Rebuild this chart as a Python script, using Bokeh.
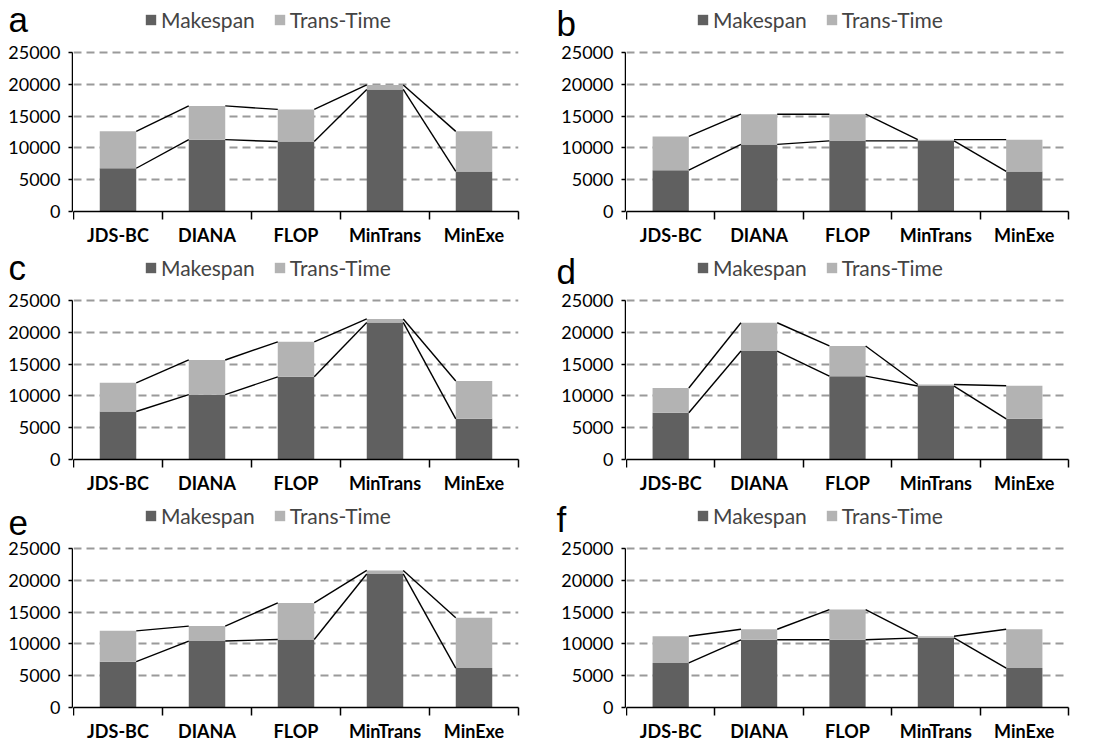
from bokeh.plotting import figure
from bokeh.models import ColumnDataSource, Range1d, FixedTicker, Legend, Title
from bokeh.layouts import column, row
from bokeh.embed import file_html
from bokeh.resources import INLINE

categories = ["JDS-BC", "DIANA", "FLOP", "MinTrans", "MinExe"]
panel_letters = ["a", "b", "c", "d", "e", "f"]
y_ticks = [0, 5000, 10000, 15000, 20000, 25000]

makespan_a = [6800, 11300, 11000, 19200, 6300]
total_a = [12600, 16600, 16050, 19900, 12600]
makespan_b = [6500, 10550, 11100, 11100, 6300]
total_b = [11800, 15300, 15300, 11300, 11300]
makespan_c = [7550, 10200, 13000, 21550, 6400]
total_c = [12050, 15650, 18500, 22100, 12350]
makespan_d = [7350, 17050, 13100, 11550, 6400]
total_d = [11250, 21500, 17850, 11800, 11600]
makespan_e = [7200, 10450, 10700, 21000, 6200]
total_e = [12050, 12800, 16450, 21550, 14100]
makespan_f = [7000, 10650, 10650, 10950, 6200]
total_f = [11200, 12300, 15400, 11200, 12300]

panels = [
    (makespan_a, total_a), (makespan_b, total_b),
    (makespan_c, total_c), (makespan_d, total_d),
    (makespan_e, total_e), (makespan_f, total_f),
]

DARK = "#606060"
LIGHT = "#b3b3b3"
FONT = "Lato"
BAR_W = 0.41

PANEL_H = 248
FRAME_BOTTOM = 211   # pixel from panel top where y = 0
Y25_PX = 52          # pixel from panel top where y = 25000


def y_max_for(frame_top):
    return 25000 * (FRAME_BOTTOM - frame_top) / (FRAME_BOTTOM - Y25_PX)


def style_yaxis(yax):
    yax.ticker = FixedTicker(ticks=y_ticks, minor_ticks=[])
    yax.bounds = (0, 25000)
    yax.axis_line_color = "black"
    yax.axis_line_width = 1.5
    yax.major_tick_in = 0
    yax.major_tick_out = 4
    yax.major_tick_line_color = "black"
    yax.major_tick_line_width = 1.5
    yax.major_label_standoff = 8
    yax.major_label_text_font = FONT
    yax.major_label_text_font_size = "18px"
    yax.major_label_text_color = "black"


def make_panel(idx, mk, tot):
    left_col = idx % 2 == 0
    width = 548 if left_col else 549
    bl = 72 if left_col else 77
    br = 30 if left_col else 29
    left_top = 36 if left_col else 44       # frame top of the narrow axis figure
    title_standoff = -8 if left_col else 0
    n = len(categories)
    trans = [t - m for t, m in zip(tot, mk)]
    xs = list(range(n))
    src = ColumnDataSource(dict(x=xs, Makespan=mk, Trans=trans))

    # ---- narrow figure: y axis + panel letter ----
    lf = figure(width=bl + 1, height=PANEL_H, output_backend="svg", toolbar_location=None,
                x_range=Range1d(0, 1), y_range=Range1d(0, y_max_for(left_top)),
                min_border_left=bl, min_border_right=0, min_border_top=left_top,
                min_border_bottom=PANEL_H - FRAME_BOTTOM)
    lf.frame_align = False
    lf.outline_line_color = None
    lf.xaxis.visible = False
    lf.xgrid.visible = False
    lf.ygrid.visible = False
    style_yaxis(lf.yaxis[0])
    lf.add_layout(Title(text=panel_letters[idx], align="left", offset=-(bl - 8),
                        vertical_align="top", standoff=title_standoff,
                        text_font="Liberation Sans", text_font_size="35px",
                        text_font_style="normal", text_color="black"), "above")

    # ---- main figure ----
    p = figure(width=width - bl - 1, height=PANEL_H, output_backend="svg", toolbar_location=None,
               x_range=Range1d(-0.5, n - 0.5), y_range=Range1d(0, y_max_for(0)),
               min_border_left=0, min_border_right=br, min_border_top=0,
               min_border_bottom=PANEL_H - FRAME_BOTTOM)
    p.frame_align = False
    p.outline_line_color = None
    p.xgrid.visible = False
    p.yaxis.visible = False

    rs = p.vbar_stack(["Makespan", "Trans"], x="x", width=BAR_W, color=[DARK, LIGHT],
                      line_color=None, source=src)

    # Excel-style series lines joining the tops of each stacked segment
    x0 = [i + BAR_W / 2 for i in xs[:-1]]
    x1 = [i + 1 - BAR_W / 2 for i in xs[:-1]]
    p.segment(x0=x0, y0=mk[:-1], x1=x1, y1=mk[1:], line_color="black", line_width=1.4)
    p.segment(x0=x0, y0=tot[:-1], x1=x1, y1=tot[1:], line_color="black", line_width=1.4)

    xax = p.xaxis[0]
    xax.ticker = FixedTicker(ticks=xs, minor_ticks=[i - 0.5 for i in range(n + 1)])
    xax.major_label_overrides = {i: c for i, c in enumerate(categories)}
    xax.axis_line_color = "black"
    xax.axis_line_width = 1.5
    xax.major_tick_in = 0
    xax.major_tick_out = 0
    xax.minor_tick_in = 0
    xax.minor_tick_out = 8
    xax.minor_tick_line_color = "black"
    xax.minor_tick_line_width = 1.5
    xax.major_label_standoff = 4
    xax.major_label_text_font = FONT
    xax.major_label_text_font_size = "18px"
    xax.major_label_text_font_style = "bold"
    xax.major_label_text_color = "black"

    p.ygrid.ticker = FixedTicker(ticks=y_ticks[1:], minor_ticks=[])
    p.ygrid.grid_line_color = "#9a9a9a"
    p.ygrid.grid_line_width = 2
    p.ygrid.grid_line_dash = "8 5"

    legend = Legend(items=[("Makespan", [rs[0]]), ("Trans-Time", [rs[1]])],
                    orientation="horizontal",
                    location=(71 if left_col else 70, FRAME_BOTTOM - 32),
                    padding=0, margin=0, spacing=18, label_standoff=4,
                    glyph_width=13, glyph_height=13,
                    label_text_font=FONT, label_text_font_size="21px",
                    background_fill_alpha=0, border_line_color=None)
    p.add_layout(legend, "center")
    return row(lf, p)


parts = [make_panel(i, mk, tot) for i, (mk, tot) in enumerate(panels)]
layout = column(row(parts[0], parts[1]), row(parts[2], parts[3]), row(parts[4], parts[5]))

with open("out.html", "w") as f:
    f.write(file_html(layout, INLINE))
